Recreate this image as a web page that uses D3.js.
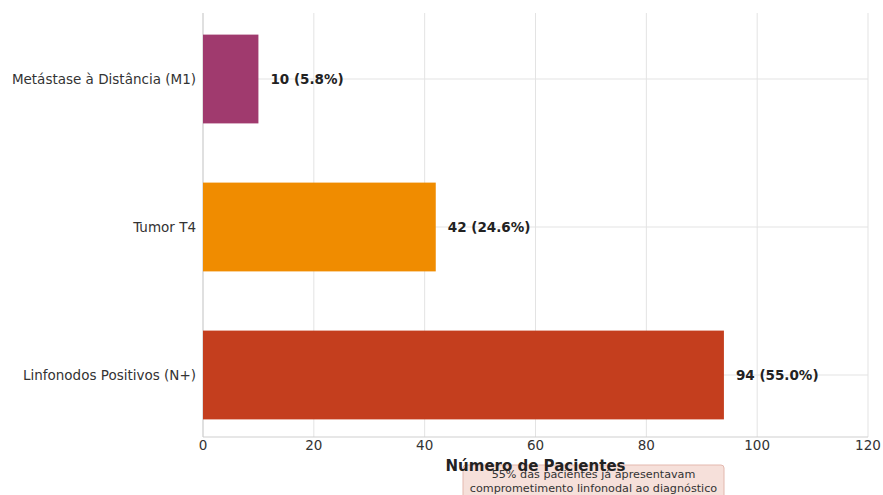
<!DOCTYPE html>
<html>
<head>
<meta charset="utf-8">
<script src="https://cdn.jsdelivr.net/npm/d3@7/dist/d3.min.js"></script>
<style>
  html, body { margin: 0; padding: 0; background: #fff; }
  svg { display: block; font-family: "DejaVu Sans", sans-serif; }
</style>
</head>
<body>
<svg id="chart" width="883" height="495"></svg>
<script>
// Categories listed bottom-to-top
const categories = ["Linfonodos Positivos (N+)", "Tumor T4", "Metástase à Distância (M1)"];
const counts = [94, 42, 10];
const percents = [55.0, 24.6, 5.8];
const barColors = ["#c43e1e", "#f08c00", "#a03a6e"];
const xTicks = [0, 20, 40, 60, 80, 100, 120];
const xLabel = "Número de Pacientes";
const noteLines = ["55% das pacientes já apresentavam", "comprometimento linfonodal ao diagnóstico"];

const svg = d3.select("#chart");
const plot = { left: 203, right: 868, top: 13, bottom: 437 };

const x = d3.scaleLinear().domain([0, 120]).range([plot.left, plot.right]);
const y = d3.scaleLinear().domain([-0.419, 2.446]).range([plot.bottom, plot.top]);
const barH = 0.6;

// grid lines
const g = svg.append("g");
g.selectAll(".vgrid").data(xTicks).join("line")
  .attr("x1", d => x(d)).attr("x2", d => x(d))
  .attr("y1", plot.top).attr("y2", plot.bottom)
  .attr("stroke", "#e3e3e3").attr("stroke-width", 1);
g.selectAll(".hgrid").data(categories).join("line")
  .attr("x1", plot.left).attr("x2", plot.right)
  .attr("y1", (d, i) => y(i)).attr("y2", (d, i) => y(i))
  .attr("stroke", "#e3e3e3").attr("stroke-width", 1);

// spines
svg.append("line").attr("x1", plot.left).attr("x2", plot.left)
  .attr("y1", plot.top).attr("y2", plot.bottom).attr("stroke", "#cfcfcf");
svg.append("line").attr("x1", plot.left).attr("x2", plot.right)
  .attr("y1", plot.bottom).attr("y2", plot.bottom).attr("stroke", "#cfcfcf");

// bars
svg.selectAll(".bar").data(counts).join("rect")
  .attr("x", x(0))
  .attr("y", (d, i) => y(i + barH / 2))
  .attr("width", d => x(d) - x(0))
  .attr("height", (d, i) => y(i - barH / 2) - y(i + barH / 2))
  .attr("fill", (d, i) => barColors[i]);

// value labels
svg.selectAll(".val").data(counts).join("text")
  .attr("x", d => x(d) + 12)
  .attr("y", (d, i) => y(i))
  .attr("dy", "0.35em")
  .attr("font-size", 13.5).attr("font-weight", "bold").attr("fill", "#222")
  .text((d, i) => `${d} (${percents[i].toFixed(1)}%)`);

// category labels
svg.selectAll(".cat").data(categories).join("text")
  .attr("x", plot.left - 7)
  .attr("y", (d, i) => y(i))
  .attr("dy", "0.35em")
  .attr("text-anchor", "end")
  .attr("font-size", 13.5).attr("fill", "#333")
  .text(d => d);

// x tick labels
svg.selectAll(".xt").data(xTicks).join("text")
  .attr("x", d => x(d)).attr("y", 450)
  .attr("text-anchor", "middle")
  .attr("font-size", 13.5).attr("fill", "#333")
  .text(d => d);

// note box
const note = svg.append("g");
note.append("rect")
  .attr("x", 463).attr("y", 465).attr("width", 261).attr("height", 40)
  .attr("rx", 3)
  .attr("fill", "#f6e0da").attr("stroke", "#e3b8ae").attr("stroke-width", 1);
note.selectAll("text").data(noteLines).join("text")
  .attr("x", 593.5).attr("y", (d, i) => 478 + i * 14)
  .attr("text-anchor", "middle")
  .attr("font-size", 11.2).attr("fill", "#333")
  .text(d => d);

// x axis title, drawn over the note box
svg.append("text")
  .attr("x", (plot.left + plot.right) / 2).attr("y", 471)
  .attr("text-anchor", "middle")
  .attr("font-size", 15).attr("font-weight", "bold").attr("fill", "#222")
  .text(xLabel);
</script>
</body>
</html>
